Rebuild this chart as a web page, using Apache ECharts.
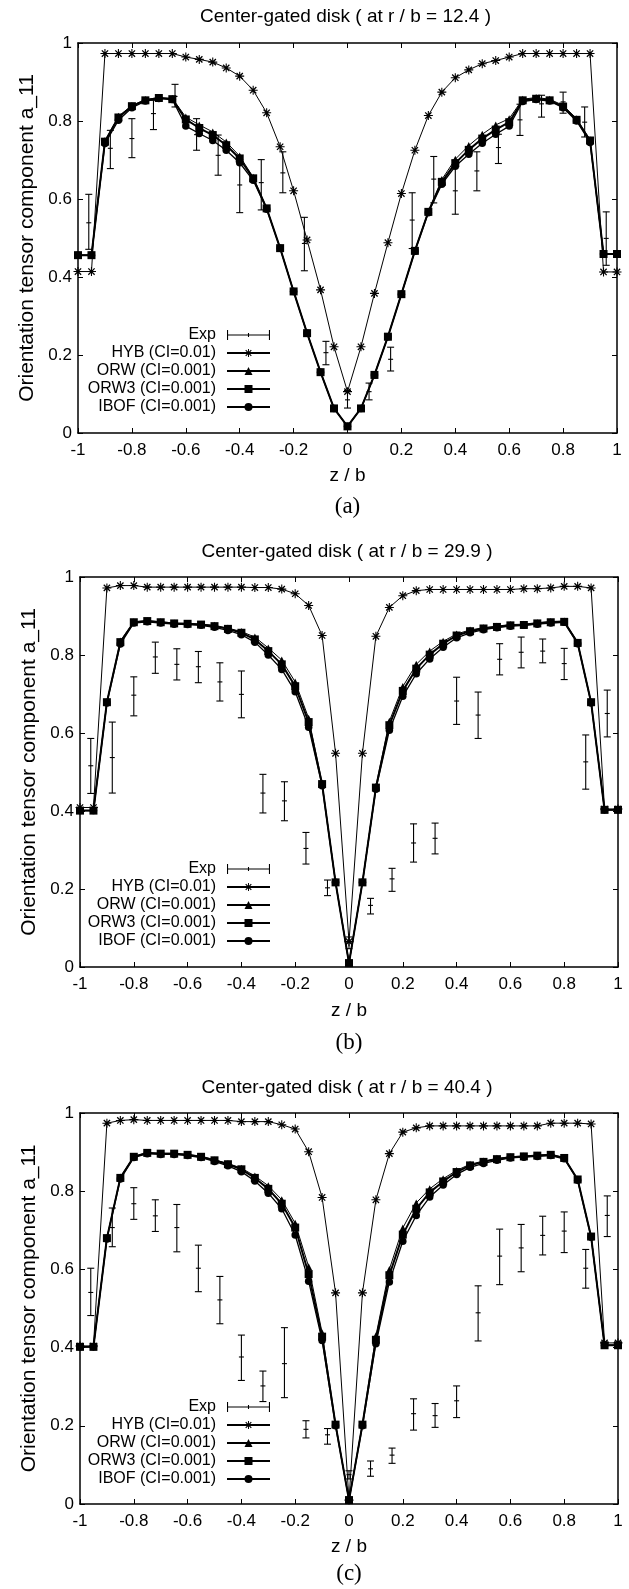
<!DOCTYPE html>
<html><head><meta charset="utf-8">
<script src="https://cdn.jsdelivr.net/npm/echarts@6/dist/echarts.min.js"></script>
<style>html,body{margin:0;padding:0;background:#fff}#c{width:629px;height:1589px}</style>
</head><body><div id="c"></div>
<script>
// ---------------- data ----------------
const titles = ['Center-gated disk ( at r / b = 12.4 )', 'Center-gated disk ( at r / b = 29.9 )', 'Center-gated disk ( at r / b = 40.4 )'];
const panelLabels = ['(a)', '(b)', '(c)'];
const seriesNames = ['Exp', 'HYB (CI=0.01)', 'ORW (CI=0.001)', 'ORW3 (CI=0.001)', 'IBOF (CI=0.001)'];
const xAxisName = 'z / b';
const yAxisName = 'Orientation tensor component a_11';

const zModel = [-1, -0.95, -0.9, -0.85, -0.8, -0.75, -0.7, -0.65, -0.6, -0.55, -0.5, -0.45, -0.4, -0.35, -0.3, -0.25, -0.2, -0.15, -0.1, -0.05, 0,
  0.05, 0.1, 0.15, 0.2, 0.25, 0.3, 0.35, 0.4, 0.45, 0.5, 0.55, 0.6, 0.65, 0.7, 0.75, 0.8, 0.85, 0.9, 0.95, 1];
const zExp = [-0.96, -0.88, -0.8, -0.72, -0.64, -0.56, -0.48, -0.4, -0.32, -0.24, -0.16, -0.08, 0,
  0.08, 0.16, 0.24, 0.32, 0.4, 0.48, 0.56, 0.64, 0.72, 0.8, 0.88, 0.96];

// panel (a) r/b = 12.4
const hybA = [0.414, 0.414, 0.973, 0.973, 0.973, 0.973, 0.973, 0.973, 0.964, 0.958, 0.951, 0.936, 0.915, 0.879, 0.821, 0.734, 0.621, 0.495, 0.367, 0.221, 0.106,
  0.221, 0.358, 0.488, 0.614, 0.725, 0.814, 0.874, 0.911, 0.931, 0.947, 0.955, 0.964, 0.973, 0.973, 0.973, 0.973, 0.973, 0.973, 0.413, 0.413];
const orwA = [0.456, 0.456, 0.75, 0.812, 0.84, 0.855, 0.86, 0.858, 0.81, 0.79, 0.772, 0.746, 0.71, 0.656, 0.577, 0.474, 0.363, 0.256, 0.156, 0.063, 0.017,
  0.063, 0.149, 0.247, 0.356, 0.468, 0.569, 0.65, 0.702, 0.737, 0.766, 0.79, 0.806, 0.856, 0.86, 0.856, 0.84, 0.806, 0.752, 0.459, 0.459];
const orw3A = [0.456, 0.456, 0.747, 0.809, 0.838, 0.853, 0.859, 0.856, 0.804, 0.782, 0.764, 0.738, 0.704, 0.653, 0.576, 0.474, 0.363, 0.256, 0.156, 0.063, 0.017,
  0.063, 0.149, 0.247, 0.356, 0.467, 0.567, 0.644, 0.692, 0.726, 0.755, 0.778, 0.797, 0.853, 0.857, 0.853, 0.837, 0.803, 0.75, 0.459, 0.459];
const ibofA = [0.456, 0.456, 0.742, 0.802, 0.834, 0.851, 0.858, 0.855, 0.787, 0.768, 0.75, 0.725, 0.693, 0.648, 0.574, 0.474, 0.363, 0.256, 0.156, 0.063, 0.017,
  0.063, 0.149, 0.247, 0.356, 0.466, 0.565, 0.638, 0.684, 0.715, 0.743, 0.766, 0.787, 0.85, 0.855, 0.851, 0.834, 0.8, 0.745, 0.459, 0.459];
const expAMid = [0.539, 0.730, 0.755, 0.819, 0.863, 0.765, 0.712, 0.636, 0.642, 0.667, 0.486, 0.206, 0.085, 0.106, 0.189, 0.546, 0.651, 0.621, 0.672, 0.732, 0.803, 0.844, 0.849, 0.797, 0.499];
const expALo = [0.471, 0.678, 0.706, 0.778, 0.836, 0.725, 0.661, 0.565, 0.572, 0.616, 0.416, 0.175, 0.064, 0.085, 0.159, 0.473, 0.590, 0.561, 0.621, 0.691, 0.763, 0.810, 0.820, 0.759, 0.430];
const expAHi = [0.612, 0.776, 0.806, 0.853, 0.894, 0.806, 0.764, 0.701, 0.701, 0.721, 0.553, 0.235, 0.109, 0.128, 0.220, 0.616, 0.709, 0.699, 0.721, 0.766, 0.843, 0.866, 0.874, 0.836, 0.567];

// panel (b) r/b = 29.9
const hybB = [0.409, 0.409, 0.972, 0.978, 0.978, 0.974, 0.974, 0.974, 0.974, 0.974, 0.974, 0.974, 0.974, 0.973, 0.973, 0.969, 0.957, 0.927, 0.850, 0.548, 0.065,
  0.548, 0.848, 0.922, 0.952, 0.965, 0.968, 0.968, 0.968, 0.968, 0.968, 0.968, 0.968, 0.970, 0.970, 0.972, 0.976, 0.976, 0.972, 0.405, 0.405];
const orwB = [0.401, 0.401, 0.68, 0.836, 0.885, 0.888, 0.885, 0.882, 0.881, 0.879, 0.876, 0.869, 0.86, 0.846, 0.818, 0.787, 0.731, 0.638, 0.472, 0.217, 0.01,
  0.217, 0.463, 0.63, 0.719, 0.776, 0.81, 0.835, 0.854, 0.864, 0.87, 0.874, 0.878, 0.879, 0.883, 0.886, 0.887, 0.833, 0.68, 0.403, 0.403];
const orw3B = [0.401, 0.401, 0.679, 0.833, 0.884, 0.887, 0.884, 0.881, 0.880, 0.878, 0.874, 0.867, 0.857, 0.840, 0.810, 0.776, 0.720, 0.628, 0.469, 0.217, 0.01,
  0.217, 0.46, 0.62, 0.708, 0.765, 0.801, 0.829, 0.850, 0.861, 0.868, 0.872, 0.876, 0.877, 0.881, 0.884, 0.885, 0.831, 0.679, 0.403, 0.403];
const ibofB = [0.401, 0.401, 0.677, 0.828, 0.882, 0.885, 0.882, 0.879, 0.878, 0.876, 0.871, 0.863, 0.852, 0.833, 0.8, 0.763, 0.706, 0.615, 0.465, 0.217, 0.01,
  0.217, 0.456, 0.607, 0.694, 0.752, 0.79, 0.82, 0.844, 0.857, 0.865, 0.87, 0.874, 0.876, 0.879, 0.882, 0.884, 0.829, 0.677, 0.403, 0.403];
const expBMid = [0.516, 0.537, 0.697, 0.795, 0.776, 0.770, 0.731, 0.699, 0.446, 0.426, 0.304, 0.203, 0.064, 0.158, 0.226, 0.318, 0.330, 0.682, 0.646, 0.789, 0.807, 0.810, 0.778, 0.526, 0.650];
const expBLo = [0.445, 0.446, 0.644, 0.753, 0.736, 0.729, 0.682, 0.639, 0.395, 0.375, 0.264, 0.183, 0.047, 0.136, 0.194, 0.269, 0.290, 0.622, 0.586, 0.749, 0.767, 0.780, 0.737, 0.456, 0.590];
const expBHi = [0.586, 0.628, 0.744, 0.833, 0.816, 0.809, 0.780, 0.759, 0.494, 0.475, 0.345, 0.223, 0.077, 0.176, 0.253, 0.367, 0.369, 0.743, 0.705, 0.829, 0.846, 0.841, 0.817, 0.595, 0.710];

// panel (c) r/b = 40.4
const hybC = [0.404, 0.404, 0.974, 0.981, 0.983, 0.981, 0.981, 0.981, 0.981, 0.981, 0.981, 0.981, 0.978, 0.978, 0.978, 0.970, 0.959, 0.901, 0.784, 0.540, 0.01,
  0.540, 0.778, 0.896, 0.951, 0.962, 0.967, 0.967, 0.967, 0.967, 0.967, 0.967, 0.967, 0.967, 0.967, 0.974, 0.974, 0.974, 0.972, 0.412, 0.412];
const orwC = [0.402, 0.402, 0.681, 0.836, 0.889, 0.899, 0.897, 0.897, 0.894, 0.889, 0.88, 0.871, 0.859, 0.839, 0.814, 0.778, 0.718, 0.607, 0.438, 0.206, 0.01,
  0.206, 0.43, 0.6, 0.706, 0.77, 0.806, 0.832, 0.853, 0.869, 0.877, 0.884, 0.888, 0.89, 0.892, 0.894, 0.886, 0.831, 0.685, 0.406, 0.406];
const orw3C = [0.402, 0.402, 0.680, 0.834, 0.888, 0.898, 0.896, 0.896, 0.893, 0.888, 0.879, 0.869, 0.856, 0.834, 0.806, 0.768, 0.707, 0.588, 0.428, 0.203, 0.01,
  0.203, 0.420, 0.585, 0.689, 0.755, 0.797, 0.825, 0.849, 0.866, 0.875, 0.882, 0.887, 0.889, 0.891, 0.893, 0.885, 0.830, 0.684, 0.406, 0.406];
const ibofC = [0.402, 0.402, 0.678, 0.831, 0.886, 0.896, 0.894, 0.894, 0.891, 0.886, 0.876, 0.865, 0.85, 0.826, 0.795, 0.755, 0.688, 0.57, 0.418, 0.2, 0.01,
  0.2, 0.41, 0.568, 0.672, 0.738, 0.785, 0.816, 0.843, 0.861, 0.871, 0.879, 0.885, 0.887, 0.889, 0.891, 0.883, 0.828, 0.682, 0.406, 0.406];
const expCMid = [0.541, 0.707, 0.768, 0.737, 0.707, 0.603, 0.522, 0.376, 0.302, 0.359, 0.191, 0.177, 0.075, 0.090, 0.125, 0.231, 0.226, 0.264, 0.489, 0.634, 0.655, 0.687, 0.698, 0.603, 0.738];
const expCLo = [0.482, 0.658, 0.728, 0.697, 0.645, 0.543, 0.461, 0.316, 0.262, 0.272, 0.169, 0.153, 0.064, 0.071, 0.104, 0.189, 0.196, 0.221, 0.417, 0.561, 0.594, 0.637, 0.643, 0.552, 0.684];
const expCHi = [0.603, 0.757, 0.809, 0.778, 0.766, 0.662, 0.582, 0.432, 0.340, 0.451, 0.213, 0.193, 0.085, 0.110, 0.143, 0.269, 0.257, 0.302, 0.558, 0.703, 0.715, 0.736, 0.747, 0.651, 0.788];

// ---------------- layout / style ----------------
const FONT = '"Liberation Sans", Arial, Helvetica, sans-serif';
const SERIF = '"Liberation Serif", "Times New Roman", serif';
const panels = [
  { grid: { left: 78, top: 43, width: 539, height: 390 }, titleY: 17, labelY: 507, legendTop: 326, nameGapX: 33,
    exp: [expAMid, expALo, expAHi], models: [hybA, orwA, orw3A, ibofA] },
  { grid: { left: 80, top: 577, width: 538, height: 390 }, titleY: 552, labelY: 1043, legendTop: 860, nameGapX: 34,
    exp: [expBMid, expBLo, expBHi], models: [hybB, orwB, orw3B, ibofB] },
  { grid: { left: 80, top: 1113, width: 538, height: 391 }, titleY: 1088, labelY: 1574, legendTop: 1398, nameGapX: 33,
    exp: [expCMid, expCLo, expCHi], models: [hybC, orwC, orw3C, ibofC] }
];
const asterisk = 'path://M4.4,0H5.6V10H4.4Z M0,4.4H10V5.6H0Z M1,2L2,1L9,8L8,9Z M8,1L9,2L2,9L1,8Z';
const expIcon = 'path://M0,0H2.5V10H0Z M0,4.5H100V5.5H0Z M97.5,0H100V10H97.5Z M48.75,3H51.25V7H48.75Z';
const modelStyles = [
  { symbol: asterisk, symbolSize: 9, width: 1 },
  { symbol: 'triangle', symbolSize: 7, width: 1 },
  { symbol: 'rect', symbolSize: 8, width: 2 },
  { symbol: 'circle', symbolSize: 7.5, width: 1.3 }
];

function renderErr(params, api) {
  const x = api.value(0);
  const pc = api.coord([x, api.value(1)]);
  const pl = api.coord([x, api.value(2)]);
  const ph = api.coord([x, api.value(3)]);
  const cw = 3.5, tw = 2.5;
  const st = { stroke: '#000', lineWidth: 1.1 };
  return { type: 'group', children: [
    { type: 'line', shape: { x1: pl[0], y1: pl[1], x2: ph[0], y2: ph[1] }, style: st },
    { type: 'line', shape: { x1: pl[0] - cw, y1: pl[1], x2: pl[0] + cw, y2: pl[1] }, style: st },
    { type: 'line', shape: { x1: ph[0] - cw, y1: ph[1], x2: ph[0] + cw, y2: ph[1] }, style: st },
    { type: 'line', shape: { x1: pc[0] - tw, y1: pc[1], x2: pc[0] + tw, y2: pc[1] }, style: st }
  ] };
}

const grids = [], xAxes = [], yAxes = [], series = [], legends = [], graphics = [];
const axisLine = { show: true, onZero: false, lineStyle: { color: '#000', width: 1.5 } };
const axisTick = { show: true, inside: true, length: 5, lineStyle: { color: '#000', width: 1 } };

panels.forEach((p, i) => {
  grids.push(Object.assign({ containLabel: false }, p.grid));
  xAxes.push({ gridIndex: i, type: 'value', min: -1, max: 1, interval: 0.2, position: 'bottom',
    axisLine, axisTick, splitLine: { show: false },
    axisLabel: { margin: 9, fontFamily: FONT, fontSize: 17, color: '#000' },
    name: xAxisName, nameLocation: 'middle', nameGap: p.nameGapX,
    nameTextStyle: { fontFamily: FONT, fontSize: 19, color: '#000' } });
  xAxes.push({ gridIndex: i, type: 'value', min: -1, max: 1, interval: 0.2, position: 'top',
    axisLine, axisTick, splitLine: { show: false }, axisLabel: { show: false } });
  yAxes.push({ gridIndex: i, type: 'value', min: 0, max: 1, interval: 0.2, position: 'left',
    axisLine, axisTick, splitLine: { show: false },
    axisLabel: { margin: 6, fontFamily: FONT, fontSize: 17, color: '#000' },
    name: yAxisName, nameLocation: 'middle', nameGap: 40,
    nameTextStyle: { fontFamily: FONT, fontSize: 21, color: '#000' } });
  yAxes.push({ gridIndex: i, type: 'value', min: 0, max: 1, interval: 0.2, position: 'right',
    axisLine, axisTick, splitLine: { show: false }, axisLabel: { show: false } });

  series.push({ name: seriesNames[0], type: 'custom', xAxisIndex: 2 * i, yAxisIndex: 2 * i,
    renderItem: renderErr, itemStyle: { color: '#000' },
    encode: { x: 0, y: [1, 2, 3] },
    data: zExp.map((z, k) => [z, p.exp[0][k], p.exp[1][k], p.exp[2][k]]), z: 2 });
  p.models.forEach((arr, m) => {
    const s = modelStyles[m];
    series.push({ name: seriesNames[m + 1], type: 'line', xAxisIndex: 2 * i, yAxisIndex: 2 * i,
      data: zModel.map((z, k) => [z, arr[k]]), symbol: s.symbol, symbolSize: s.symbolSize,
      showAllSymbol: true, lineStyle: { color: '#000', width: s.width },
      itemStyle: { color: '#000' }, z: 3 + m });
  });

  legends.push({ orient: 'vertical', align: 'right', right: 358, top: p.legendTop, padding: 0,
    itemWidth: 43, itemHeight: 10, itemGap: 0, symbolKeepAspect: false, selectedMode: false,
    textStyle: { fontFamily: FONT, fontSize: 16, color: '#000', lineHeight: 18, padding: [0, 6, 0, 0] },
    data: [{ name: seriesNames[0], icon: expIcon }, seriesNames[1], seriesNames[2], seriesNames[3], seriesNames[4]] });

  graphics.push({ type: 'text', x: p.grid.left + p.grid.width / 2 - 2, y: p.titleY,
    style: { text: titles[i], fontFamily: FONT, fontSize: 19, fill: '#000', textAlign: 'center', textVerticalAlign: 'middle' } });
  graphics.push({ type: 'text', x: p.grid.left + p.grid.width / 2, y: p.labelY,
    style: { text: panelLabels[i], fontFamily: SERIF, fontSize: 23, fill: '#000', textAlign: 'center', textVerticalAlign: 'middle' } });
});

const chart = echarts.init(document.getElementById('c'), null, { renderer: 'canvas' });
chart.setOption({
  backgroundColor: '#fff', animation: false,
  grid: grids, xAxis: xAxes, yAxis: yAxes, series, legend: legends, graphic: graphics
});
</script></body></html>
